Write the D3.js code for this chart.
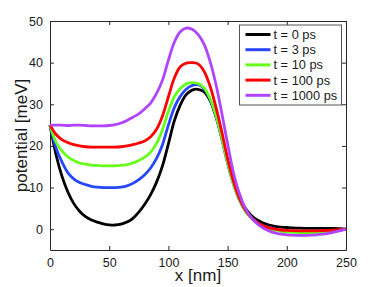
<!DOCTYPE html>
<html lang="en">
<head>
    <meta charset="UTF-8">
    <title>Potential profile</title>
    <style>
        body { margin: 0; background: #fff; }
        text { font-family: "Liberation Sans", Arial, Helvetica, sans-serif; }
    </style>
</head>
<body>
    <div id="chart"></div>

    <script type="text/javascript" src="https://d3js.org/d3.v7.min.js"></script>
    <script type="text/javascript">
        // x positions in nm, one every 5 nm
        var xNm = d3.range(0, 251, 5);

        var seriesNames = ["t = 0 ps", "t = 3 ps", "t = 10 ps", "t = 100 ps", "t = 1000 ps"];
        var seriesColors = ["#000000", "#2846ff", "#66ff1a", "#ff0000", "#b044ff"];

        var t0 = [25, 18, 12.8, 9, 6.2, 4.3, 3, 2.2, 1.7, 1.3, 1.05, 1.0, 1.2, 1.7, 2.6, 4.1, 6.0, 8.3, 11.3, 15.2,
            20.5, 26.0, 29.8, 32.3, 33.4, 33.6, 33.0, 31.0, 27.2, 22.0, 16.3, 11.3, 7.5, 5.0, 3.3, 2.2, 1.5, 1.0, 0.7, 0.5,
            0.4, 0.3, 0.25, 0.2, 0.2, 0.2, 0.2, 0.2, 0.2, 0.1, 0];
        var t3 = [25, 19.6, 16.2, 13.6, 12.1, 11.2, 10.7, 10.3, 10.1, 10.0, 10.0, 10.0, 10.1, 10.4, 11.0, 11.9, 13.1, 14.7, 17.0, 20.3,
            25.0, 29.2, 31.9, 33.6, 34.5, 34.7, 33.8, 31.3, 27.3, 21.8, 15.8, 10.8, 7.0, 4.4, 2.8, 1.6, 0.9, 0.4, 0.0, -0.3,
            -0.5, -0.6, -0.7, -0.75, -0.75, -0.7, -0.6, -0.5, -0.35, -0.2, 0];
        var t10 = [25, 21, 18.8, 17.4, 16.5, 15.9, 15.6, 15.4, 15.3, 15.2, 15.2, 15.2, 15.3, 15.5, 15.9, 16.5, 17.3, 18.5, 20.6, 23.9,
            28.3, 31.8, 33.8, 34.9, 35.2, 35.0, 34.0, 31.5, 27.5, 22.0, 16.0, 10.8, 7.0, 4.3, 2.6, 1.4, 0.7, 0.2, -0.2, -0.5,
            -0.65, -0.75, -0.8, -0.85, -0.85, -0.8, -0.7, -0.55, -0.4, -0.2, 0];
        var t100 = [25, 22.8, 21.5, 20.8, 20.3, 20.0, 19.8, 19.7, 19.7, 19.7, 19.7, 19.7, 19.8, 20.0, 20.3, 20.7, 21.2, 22.2, 24.0, 27.2,
            31.8, 36.3, 39.0, 39.9, 40.0, 39.7, 38.0, 34.5, 29.5, 23.5, 17.0, 11.5, 7.4, 4.6, 2.8, 1.6, 0.8, 0.3, 0.0, -0.2,
            -0.3, -0.35, -0.4, -0.4, -0.4, -0.4, -0.35, -0.3, -0.2, -0.1, 0];
        var t1000 = [25, 25, 25, 24.9, 25, 25, 24.9, 24.8, 24.8, 24.8, 24.9, 25.1, 25.5, 26.1, 26.9, 27.7, 28.9, 30.3, 32.6, 35.8,
            40.6, 44.9, 47.4, 48.3, 48.0, 46.8, 44.5, 40.5, 35.0, 28.0, 20.5, 13.5, 8.5, 5.0, 2.8, 1.3, 0.3, -0.4, -0.9, -1.2,
            -1.35, -1.45, -1.5, -1.5, -1.45, -1.35, -1.2, -1.0, -0.7, -0.35, 0];

        var seriesValues = [t0, t3, t10, t100, t1000];

        var xTicks = [0, 50, 100, 150, 200, 250];
        var yTicks = [0, 10, 20, 30, 40, 50];

        var margin = { top: 21, right: 36, bottom: 37, left: 50 };
        var width = 382 - margin.left - margin.right,
            height = 287 - margin.top - margin.bottom;

        var xScaling = d3.scaleLinear().domain([0, 250]).range([0, width]);
        var yScaling = d3.scaleLinear().domain([-5, 50]).range([height, 0]);

        var svgCanvas = d3.select("#chart")
            .append("svg")
            .attr("width", 382)
            .attr("height", 287);

        var graphGroup = svgCanvas.append("g")
            .attr("transform", "translate(" + margin.left + "," + margin.top + ")");

        // Axes with inward ticks, mirrored on top and right like a box.
        var axisColor = "#262626";
        function styleAxis(g) {
            g.select(".domain").attr("stroke", axisColor);
            g.selectAll(".tick line").attr("stroke", axisColor);
            g.selectAll(".tick text")
                .attr("fill", "#1a1a1a")
                .style("font-size", "12.5px")
                .style("font-family", "'Liberation Sans', Arial, sans-serif");
        }

        graphGroup.append("g")
            .attr("transform", "translate(0," + height + ")")
            .call(d3.axisBottom(xScaling).tickValues(xTicks).tickSizeInner(-4).tickSizeOuter(0).tickPadding(8))
            .call(styleAxis);

        graphGroup.append("g")
            .call(d3.axisTop(xScaling).tickValues(xTicks).tickSizeInner(-4).tickSizeOuter(0).tickFormat(""))
            .call(styleAxis);

        graphGroup.append("g")
            .call(d3.axisLeft(yScaling).tickValues(yTicks).tickSizeInner(-4).tickSizeOuter(0).tickPadding(7))
            .call(styleAxis);

        graphGroup.append("g")
            .attr("transform", "translate(" + width + ",0)")
            .call(d3.axisRight(yScaling).tickValues(yTicks).tickSizeInner(-4).tickSizeOuter(0).tickFormat(""))
            .call(styleAxis);

        // Curves
        var line = d3.line()
            .x(function(d, i) { return xScaling(xNm[i]); })
            .y(function(d) { return yScaling(d); })
            .curve(d3.curveCatmullRom);

        graphGroup.append("g")
            .selectAll("path")
            .data(seriesValues)
            .enter()
                .append("path")
                .attr("fill", "none")
                .attr("stroke", function(d, i) { return seriesColors[i]; })
                .attr("stroke-width", 2.8)
                .attr("stroke-linejoin", "round")
                .attr("d", line);

        // Axis titles
        svgCanvas.append("text")
            .attr("x", margin.left + width / 2)
            .attr("y", 281)
            .attr("text-anchor", "middle")
            .attr("fill", "#1a1a1a")
            .style("font-size", "17px")
            .text("x [nm]");

        svgCanvas.append("text")
            .attr("transform", "translate(27," + (margin.top + height / 2) + ") rotate(-90)")
            .attr("text-anchor", "middle")
            .attr("fill", "#1a1a1a")
            .style("font-size", "17px")
            .text("potential [meV]");

        // Legend
        var legend = svgCanvas.append("g")
            .attr("transform", "translate(239.5,25)");

        legend.append("rect")
            .attr("width", 102)
            .attr("height", 80)
            .attr("fill", "#fff")
            .attr("stroke", "#555");

        var entries = legend.selectAll(".entry")
            .data(seriesNames)
            .enter()
                .append("g")
                .attr("class", "entry")
                .attr("transform", function(d, i) { return "translate(0," + (9.5 + i * 15.2) + ")"; });

        entries.append("line")
            .attr("x1", 6)
            .attr("x2", 31)
            .attr("stroke", function(d, i) { return seriesColors[i]; })
            .attr("stroke-width", 3);

        entries.append("text")
            .attr("x", 34)
            .attr("dy", "0.35em")
            .attr("fill", "#1a1a1a")
            .style("font-size", "12.8px")
            .text(function(d) { return d; });
    </script>
</body>
</html>
